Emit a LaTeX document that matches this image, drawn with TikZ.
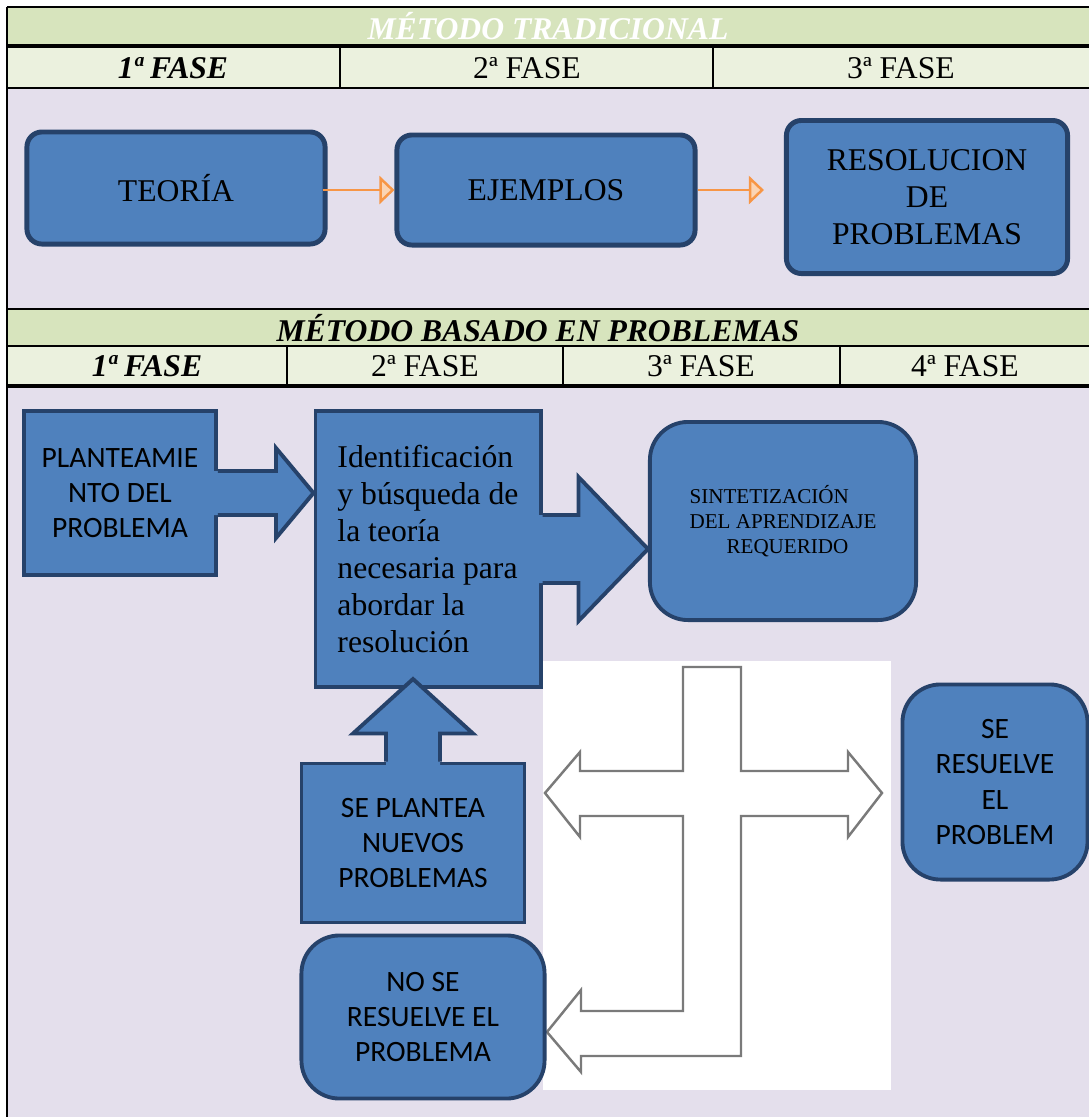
\documentclass[tikz,border=0pt]{standalone}
\usepackage{fontspec}
\setmainfont{Liberation Serif}
\newfontfamily\calibri{Carlito}
\usetikzlibrary{arrows.meta,calc}

\definecolor{lila}{HTML}{E4DFEC}
\definecolor{verdetit}{HTML}{D7E4BD}
\definecolor{verdefase}{HTML}{EBF1DE}
\definecolor{azul}{HTML}{4F81BD}
\definecolor{azulosc}{HTML}{26426A}
\definecolor{naranja}{HTML}{F79646}
\definecolor{naranjaclaro}{HTML}{FBD4B4}
\definecolor{gris}{HTML}{7A7A7A}

\begin{document}
\begin{tikzpicture}[x=0.01cm, y=-0.01cm,
    serifa/.style={font=\fontsize{9}{10.5}\selectfont},
    sans/.style={font=\calibri\fontsize{8.4}{10}\selectfont},
    titulo/.style={font=\fontsize{9}{10.5}\selectfont\bfseries\itshape},
    cajatop/.style={draw=azulosc, fill=azul, line width=1.4pt, rounded corners=0.15cm, align=center, serifa},
    caja/.style={draw=azulosc, fill=azul, line width=1.1pt, align=center},
    redonda/.style={caja, rounded corners=0.38cm},
    borde/.style={draw=azulosc, line width=1.1pt},
    flecha/.style={draw=naranja, line width=0.7pt, -{Triangle[length=0.15cm, width=0.28cm, fill=naranjaclaro]}}]
    \useasboundingbox (0,0) rectangle (1089,1117);

    % Fondos de la tabla
    \fill[verdetit] (7,7) rectangle (1089,46);
    \fill[verdefase] (7,46) rectangle (1089,88);
    \fill[lila] (7,88) rectangle (1089,309);
    \fill[verdetit] (7,309) rectangle (1089,346);
    \fill[verdefase] (7,346) rectangle (1089,386);
    \fill[lila] (7,386) rectangle (1089,1117);

    % Lineas de la tabla
    \draw[line width=0.5pt] (7,7) -- (1089,7);
    \draw[line width=1.1pt] (7,46) -- (1089,46);
    \draw[line width=0.5pt] (7,88) -- (1089,88);
    \draw[line width=0.5pt] (7,309) -- (1089,309);
    \draw[line width=0.5pt] (7,346) -- (1089,346);
    \draw[line width=1.1pt] (7,386) -- (1089,386);
    \draw[line width=0.6pt] (7,7) -- (7,1117);
    \foreach \x in {340,713}
        \draw[line width=0.5pt] (\x,46) -- (\x,88);
    \foreach \x in {287,563,840}
        \draw[line width=0.5pt] (\x,346) -- (\x,386);

    % Encabezados
    \node[titulo, text=white] (tit1) at (548,26) {MÉTODO TRADICIONAL};
    \node[titulo] (tit2) at (538,328) {MÉTODO BASADO EN PROBLEMAS};
    \node[titulo] (fa1) at (173,68) {1ª FASE};
    \foreach \x/\n in {527/2,901/3}
        \node[serifa] (fa\n) at (\x,68) {{\n}ª FASE};
    \node[titulo] (fb1) at (147,366) {1ª FASE};
    \foreach \x/\n in {425/2,701/3,965/4}
        \node[serifa] (fb\n) at (\x,366) {{\n}ª FASE};

    % Metodo tradicional
    \node[cajatop, minimum width=2.98cm, minimum height=1.12cm] (teoria) at (176,188) {TEORÍA};
    \node[cajatop, minimum width=2.98cm, minimum height=1.10cm] (ejemplos) at (546,190) {EJEMPLOS};
    \node[cajatop, minimum width=2.81cm, minimum height=1.53cm] (resolucion) at (927,197) {RESOLUCION\\DE\\PROBLEMAS};
    \draw[flecha] ([xshift=-0.05cm]teoria.east |- ejemplos.center) -- (ejemplos.west);
    \draw[flecha, shorten >=0.2cm] (ejemplos.east) -- (ejemplos.east -| resolucion.west);

    % Imagen de la cruz
    \fill[white] (543,661) rectangle (891,1090);
    \draw[gris, line width=0.7pt] (683,667) -- (741,667) -- (741,771) -- (848,771) -- (848,752)
        -- (882,793) -- (848,837) -- (848,816) -- (741,816) -- (741,1056) -- (581,1056)
        -- (581,1072) -- (547,1032) -- (581,990) -- (581,1011) -- (683,1011) -- (683,816)
        -- (580,816) -- (580,837) -- (545,793) -- (580,752) -- (580,771) -- (683,771) -- cycle;

    % Metodo basado en problemas
    \node[caja, sans, minimum width=1.92cm, minimum height=1.64cm] (plant) at (120,493) {PLANTEAMIE\\NTO DEL\\PROBLEMA};
    \node[caja, serifa, align=left, minimum width=2.25cm, minimum height=2.76cm] (ident) at (428,549)
        {Identificación\\y búsqueda de\\la teoría\\necesaria para\\abordar la\\resolución};
    \node[redonda, align=left, font=\fontsize{6}{7.1}\selectfont, minimum width=2.66cm, minimum height=1.98cm] (sintet) at (783,521)
        {SINTETIZACIÓN\\DEL APRENDIZAJE\\\hspace*{0.37cm}REQUERIDO};
    \node[caja, sans, minimum width=2.23cm, minimum height=1.59cm] (plantea) at (413,843) {SE PLANTEA\\NUEVOS\\PROBLEMAS};
    \node[redonda, sans, minimum width=2.43cm, minimum height=1.63cm] (noresuelve) at (423,1017) {NO SE\\RESUELVE EL\\PROBLEMA};
    \node[redonda, sans, minimum width=1.85cm, minimum height=1.95cm] (resuelve) at (995,782) {SE\\RESUELVE\\EL\\PROBLEM};

    % Flecha planteamiento -> identificacion
    \fill[azul] ($(plant.east)+(-4,-22)$) -- ++(62,0) -- ++(0,-23) -- (plant.east -| ident.west)
        -- ($(plant.east)+(58,45)$) -- ++(0,-23) -- ++(-62,0) -- cycle;
    \draw[borde] ($(plant.east)+(0,-22)$) -- ++(58,0) -- ++(0,-23) -- (plant.east -| ident.west)
        -- ($(plant.east)+(58,45)$) -- ++(0,-23) -- ++(-58,0);

    % Flecha identificacion -> sintetizacion
    \fill[azul] ($(ident.east)+(-4,-34)$) -- ++(40,0) -- ++(0,-38) -- (ident.east -| sintet.west)
        -- ($(ident.east)+(36,72)$) -- ++(0,-38) -- ++(-40,0) -- cycle;
    \draw[borde] ($(ident.east)+(0,-34)$) -- ++(36,0) -- ++(0,-38) -- (ident.east -| sintet.west)
        -- ($(ident.east)+(36,72)$) -- ++(0,-38) -- ++(-36,0);

    % Flecha nuevos problemas -> identificacion
    \fill[azul] ($(plantea.north)+(-27,4)$) -- ++(0,-32) -- ++(-33,0) -- ($(plantea.north |- ident.south)+(0,-10)$)
        -- ($(plantea.north)+(60,-28)$) -- ++(-33,0) -- ++(0,32) -- cycle;
    \draw[borde] ($(plantea.north)+(-27,0)$) -- ++(0,-28) -- ++(-33,0) -- ($(plantea.north |- ident.south)+(0,-10)$)
        -- ($(plantea.north)+(60,-28)$) -- ++(-33,0) -- ++(0,28);

\end{tikzpicture}
\end{document}
